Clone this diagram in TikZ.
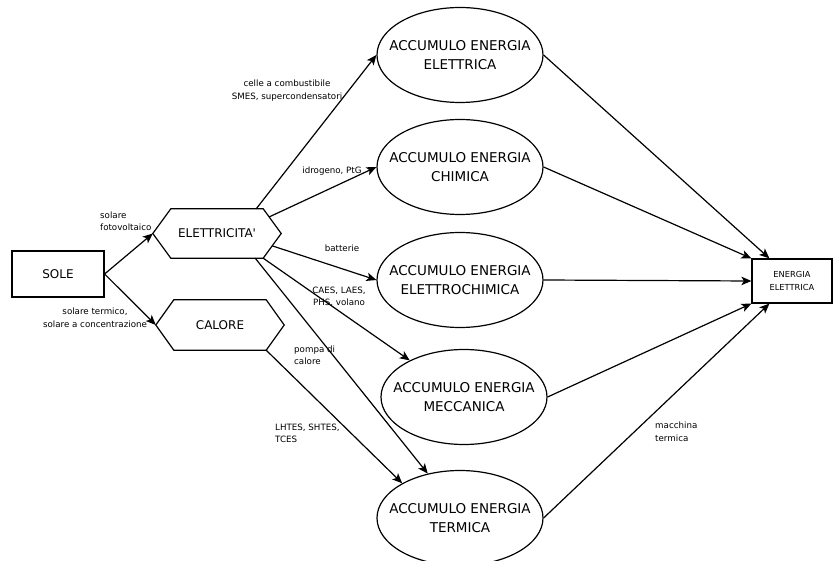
\documentclass[tikz,border=0pt]{standalone}
\usepackage{fontspec}
\setmainfont{DejaVu Sans}
\usetikzlibrary{shapes.geometric,arrows.meta,calc}
\begin{document}
\begin{tikzpicture}[x=1pt,y=-1pt,
  every node/.style={text=black},
  line/.style={line width=1.2pt, draw=black},
  arr/.style={line, -{Stealth[length=10pt,width=8.5pt,inset=2.5pt]}},
  store/.style={ellipse, draw=black, line width=1.2pt, minimum width=166pt, minimum height=95pt, inner sep=0pt},
  storetxt/.style={font=\fontsize{13.5}{19}\selectfont, align=center, inner sep=0pt},
  lbl/.style={font=\fontsize{8.7}{12.5}\selectfont, inner sep=0pt},
  box/.style={draw=black, line width=1.2pt, inner sep=0pt},
  hexcore/.style={minimum width=92pt, minimum height=49pt, inner sep=0pt, font=\fontsize{12}{14}\selectfont}
]
\useasboundingbox (0,0) rectangle (833,561);
\fill[white] (0,0) rectangle (833,561);

% source
\node[box, minimum width=92pt, minimum height=46pt, font=\fontsize{12}{14}\selectfont] (sole) at (58,274) {SOLE};

% hexagons
\node[hexcore] (elx) at (217,233.5) {ELETTRICITA\textquotesingle};
\draw[line] (elx.north west) -- (elx.north east) -- ($(elx.east)+(18,0)$) coordinate (elxR)
  -- (elx.south east) -- (elx.south west) -- ($(elx.west)+(-18,0)$) coordinate (elxL) -- cycle;
\node[hexcore, minimum height=50pt] (cal) at (220,325) {CALORE};
\draw[line] (cal.north west) -- (cal.north east) -- ($(cal.east)+(18,0)$) coordinate (calR)
  -- (cal.south east) -- (cal.south west) -- ($(cal.west)+(-18,0)$) coordinate (calL) -- cycle;

% storages
\node[store] (st1) at (460,55) {};
\node[storetxt] (t1) at (st1) {ACCUMULO ENERGIA\\ELETTRICA};
\node[store] (st2) at (460,167) {};
\node[storetxt] (t2) at (st2) {ACCUMULO ENERGIA\\CHIMICA};
\node[store] (st3) at (460,280) {};
\node[storetxt] (t3) at (st3) {ACCUMULO ENERGIA\\ELETTROCHIMICA};
\node[store] (st4) at (464,397) {};
\node[storetxt] (t4) at (st4) {ACCUMULO ENERGIA\\MECCANICA};
\node[store] (st5) at (460,518) {};
\node[storetxt] (t5) at (st5) {ACCUMULO ENERGIA\\TERMICA};

% output
\node[box, minimum width=80pt, minimum height=44pt, font=\fontsize{8.3}{13}\selectfont, align=center] (ee) at (792,281) {ENERGIA\\ELETTRICA};

% connectors
\draw[arr] (sole.east) -- (elxL);
\draw[arr] (sole.east) -- (calL);
\draw[arr] ($(elx.north east)+(-7,0)$) -- (st1.west);
\draw[arr] ($(elx.north east)!0.33!(elxR)$) -- (st2.west);
\draw[arr] ($(elxR)!0.5!(elx.south east)$) -- (st3.west);
\draw[arr] (elx.south east) -- (st4.146);
\draw[arr] ($(elx.south east)+(-8,0)$) -- (st5.126);
\draw[arr] (cal.south east) -- (st5.149);

\draw[arr] (st1.east) -- ($(ee.north west)+(18,0)$);
\draw[arr] (st2.east) -- (ee.north west);
\draw[arr] (st3.east) -- (ee.west);
\draw[arr] (st4.east) -- (ee.south west);
\draw[arr] (st5.east) -- ($(ee.south west)+(18,0)$);

% labels
\node[lbl, anchor=west, align=left] (l1) at (100,221.5) {solare\\fotovoltaico};
\node[lbl, align=center] (l2) at (95,318) {solare termico,\\solare a concentrazione};
\node[lbl, align=center] (l3) at (287,90.5) {celle a combustibile\\SMES, supercondensatori};
\node[lbl] (l4) at (332,171) {idrogeno, PtG};
\node[lbl] (l5) at (342,248) {batterie};
\node[lbl, align=center] (l6) at (339,297) {CAES, LAES,\\PHS, volano};
\node[lbl, anchor=west, align=left] (l7) at (294,355.5) {pompa di\\calore};
\node[lbl, anchor=west, align=left] (l8) at (275,433.5) {LHTES, SHTES,\\TCES};
\node[lbl, anchor=west, align=left] (l9) at (655,432) {macchina\\termica};
\end{tikzpicture}
\end{document}
